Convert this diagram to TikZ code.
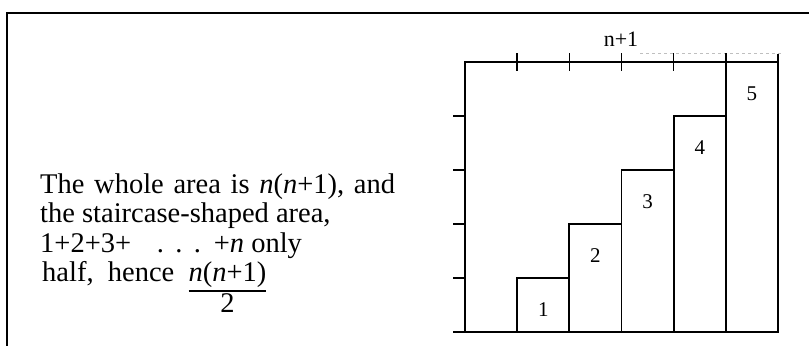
\documentclass[tikz,border=0pt]{standalone}
\usepackage{fontspec}
\setmainfont{Liberation Serif}
\setlength{\arrayrulewidth}{1.6pt}
\tikzset{
  linia/.style={line width=1.8pt},
  shtrih/.style={line width=1.4pt},
  cifra/.style={font=\fontsize{21}{24}\selectfont, inner sep=0pt},
  stroka/.style={anchor=base west, inner sep=0pt, font=\fontsize{28.5}{29.5}\selectfont},
}
\begin{document}
\begin{tikzpicture}[x=1pt, y=-1pt]
	\useasboundingbox (0,0) rectangle (809,346);

	% Рамка
	\draw[line width=2.2pt] (809,13) -- (7,13) -- (7,346);

	% Текст
	\node[stroka] (s1) at (40,193) {\spaceskip=0.34em The whole area is \textit{n}(\textit{n}+1), and};
	\node[stroka] (s2) at ([yshift=-29.5pt]s1.base west) {the staircase-shaped area,};
	\node[stroka] (s3) at ([yshift=-29.5pt]s2.base west) {1+2+3+\hspace{0.9em}.\hspace{0.4em}.\hspace{0.4em}.\hspace{0.45em}+\textit{n} only};
	\node[stroka] (s4) at ([xshift=2pt, yshift=-29.5pt]s3.base west) {\spaceskip=0.5em half, hence \begin{tabular}[t]{@{}c@{}}\textit{n}(\textit{n}+1)\\\hline 2\end{tabular}};

	% Оси
	\draw[linia] (778,332) -- (453,332);
	\draw[linia] (465,332) -- (465,62) -- (778,62);
	\draw[gray!50, dashed, line width=0.8pt] (640,53) -- (782,53);
	\foreach \i in {1,...,5}
		\draw[shtrih] ({465+\i*52.17},53) -- ({465+\i*52.17},71);
	\foreach \i in {1,...,4}
		\draw[shtrih] (453,{332-\i*54}) -- (465,{332-\i*54});
	\draw[linia] (778,54) -- (778,62);

	% Подпись n+1
	\node[font=\fontsize{22}{24}\selectfont, anchor=base, inner sep=0pt] (verh) at (621,46) {n+1};

	% Лестница
	\foreach \k in {1,...,5}{
		\draw[linia] ({465+\k*52.17},332) rectangle ({465+(\k+1)*52.17},{332-\k*54});
		\node[cifra] (c\k) at ({465+(\k+0.5)*52.17},{332-\k*54+32}) {\k};
	}
\end{tikzpicture}
\end{document}
